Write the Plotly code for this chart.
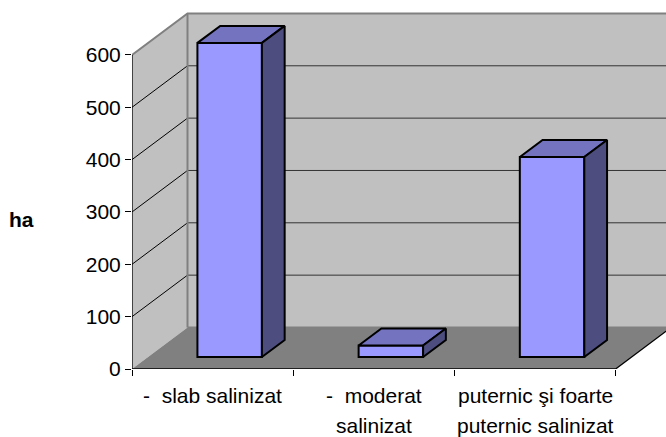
import plotly.graph_objects as go

# Data
categories_line1 = ["-\u00a0\u00a0slab salinizat", "-\u00a0\u00a0moderat", "puternic şi foarte"]
categories_line2 = ["", "salinizat", "puternic salinizat"]
values = [600, 22, 382]
y_ticks = [0, 100, 200, 300, 400, 500, 600]
y_title = "ha"

# Oblique-projection settings (category units / value units per full depth)
DX, DY = 0.3443, 79.3
D0, D1 = 0.29, 0.70      # bar depth span
BAR_W = 0.40
BAR_CENTRE = 0.506
N = len(values)
YMAX = y_ticks[-1]
FRONT, TOP, SIDE = "#9999FF", "#7373BF", "#4D4D80"
WALL, FLOOR, EDGE = "#C0C0C0", "#808080", "#808080"


def path(points):
    return "M " + " L ".join(f"{x},{y}" for x, y in points) + " Z"


shapes = [
    dict(type="path", layer="below", line_width=0, fillcolor=WALL,
         path=path([(DX, DY), (N + DX, DY), (N + DX, YMAX + DY), (DX, YMAX + DY)])),
    dict(type="path", layer="below", line_width=0, fillcolor=WALL,
         path=path([(0, 0), (DX, DY), (DX, YMAX + DY), (0, YMAX)])),
    dict(type="path", layer="below", line_width=0, fillcolor=FLOOR,
         path=path([(0, 0), (N, 0), (N + DX, DY), (DX, DY)])),
]
for v in y_ticks[1:-1]:
    shapes.append(dict(type="line", layer="below", x0=0, y0=v, x1=DX, y1=v + DY,
                       line=dict(color="#000000", width=1)))
    shapes.append(dict(type="line", layer="below", x0=DX, y0=v + DY, x1=N + DX, y1=v + DY,
                       line=dict(color="#333333", width=1)))
shapes.append(dict(type="line", layer="below", x0=DX, y0=DY, x1=DX, y1=YMAX + DY,
                   line=dict(color=EDGE, width=2)))
shapes.append(dict(type="line", layer="below", x0=DX, y0=DY, x1=N + DX, y1=DY,
                   line=dict(color=EDGE, width=2)))

fig = go.Figure()

# Front faces
centres = [i + BAR_CENTRE + D0 * DX for i in range(N)]
fig.add_trace(go.Bar(x=centres, y=values, base=[D0 * DY] * N, width=BAR_W,
                     marker=dict(color=FRONT, line=dict(color="#000000", width=2)),
                     hoverinfo="skip", showlegend=False))

# Top and side faces
for c, v in zip(centres, values):
    l, r = c - BAR_W / 2, c + BAR_W / 2
    b, t = D0 * DY, D0 * DY + v
    ddx, ddy = (D1 - D0) * DX, (D1 - D0) * DY
    top = [(l, t), (r, t), (r + ddx, t + ddy), (l + ddx, t + ddy), (l, t)]
    side = [(r, b), (r + ddx, b + ddy), (r + ddx, t + ddy), (r, t), (r, b)]
    for pts, col in ((top, TOP), (side, SIDE)):
        fig.add_trace(go.Scatter(x=[p[0] for p in pts], y=[p[1] for p in pts],
                                 mode="lines", fill="toself", fillcolor=col,
                                 line=dict(color="#000000", width=2),
                                 hoverinfo="skip", showlegend=False))

# Frame lines
fig.add_trace(go.Scatter(x=[0, DX, N + DX], y=[YMAX, YMAX + DY, YMAX + DY], mode="lines",
                         line=dict(color=EDGE, width=2), hoverinfo="skip", showlegend=False))
fig.add_trace(go.Scatter(x=[0, 0, N, N + DX], y=[YMAX, 0, 0, DY], mode="lines",
                         line=dict(color="#000000", width=1.3), cliponaxis=False,
                         hoverinfo="skip", showlegend=False))

FONT = dict(family="Liberation Sans, Arial, sans-serif", size=21, color="#000000")
annotations = []
for i, (a, b) in enumerate(zip(categories_line1, categories_line2)):
    for txt, shift in ((a, -26), (b, -56)):
        if txt:
            annotations.append(dict(text=txt, x=i + 0.5, xref="x", y=0, yref="paper",
                                    yshift=shift, yanchor="middle", xanchor="center",
                                    showarrow=False, font=FONT))
annotations.append(dict(text=f"<b>{y_title}</b>", x=-0.206, xref="paper", y=0.404, yref="paper",
                        xanchor="center", yanchor="middle", showarrow=False, font=FONT))

fig.update_layout(
    width=666, height=437, margin=dict(l=132, r=0, t=0, b=68), autosize=False,
    paper_bgcolor="#FFFFFF", plot_bgcolor="#FFFFFF", font=FONT,
    shapes=shapes, annotations=annotations, showlegend=False, hovermode=False,
    xaxis=dict(range=[0, 534 / 161.2], showgrid=False, zeroline=False, showline=False,
               tickvals=[], fixedrange=True,
               minor=dict(ticks="outside", ticklen=6, tickwidth=1, tickcolor="#000000",
                          tickmode="array", tickvals=list(range(N + 1)), showgrid=False)),
    yaxis=dict(range=[0, 705], showgrid=False, zeroline=False, showline=False,
               tickvals=y_ticks, ticks="outside", ticklen=6, tickwidth=1, tickcolor="#000000",
               tickfont=FONT, fixedrange=True),
)

fig.write_html("out.html", config=dict(displayModeBar=False),
               post_script="document.body.style.margin='0';")
